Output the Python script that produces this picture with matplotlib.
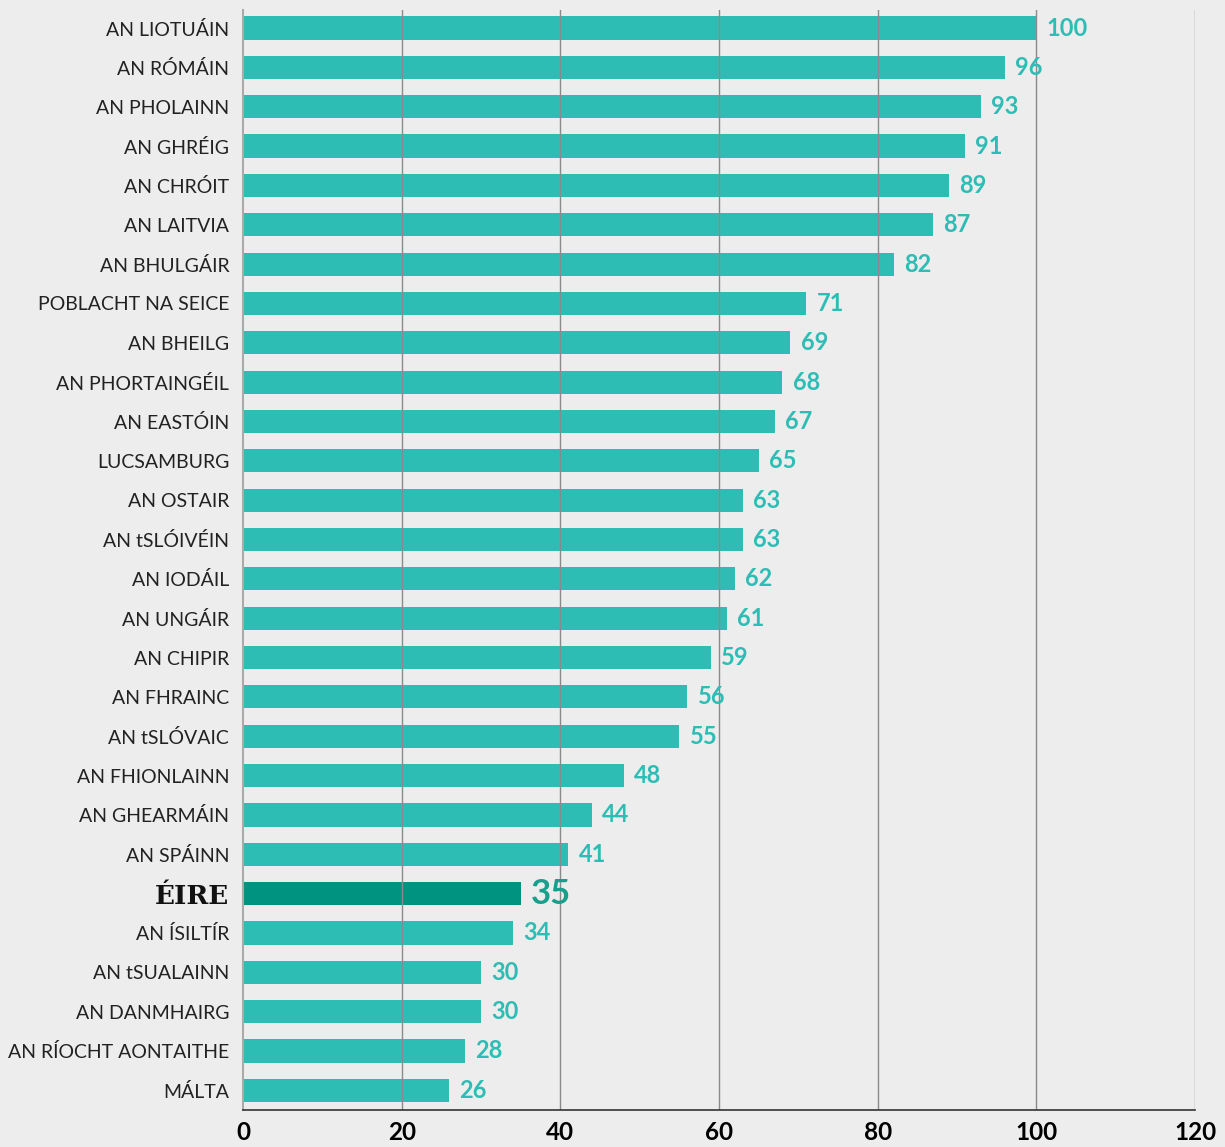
import matplotlib
matplotlib.use('Agg')
import matplotlib.pyplot as plt

countries = ['AN LIOTUÁIN', 'AN RÓMÁIN', 'AN PHOLAINN', 'AN GHRÉIG', 'AN CHRÓIT',
             'AN LAITVIA', 'AN BHULGÁIR', 'POBLACHT NA SEICE', 'AN BHEILG',
             'AN PHORTAINGÉIL', 'AN EASTÓIN', 'LUCSAMBURG', 'AN OSTAIR',
             'AN tSLÓIVÉIN', 'AN IODÁIL', 'AN UNGÁIR', 'AN CHIPIR', 'AN FHRAINC',
             'AN tSLÓVAIC', 'AN FHIONLAINN', 'AN GHEARMÁIN', 'AN SPÁINN', 'ÉIRE',
             'AN ÍSILTÍR', 'AN tSUALAINN', 'AN DANMHAIRG', 'AN RÍOCHT AONTAITHE', 'MÁLTA']
values = [100, 96, 93, 91, 89, 87, 82, 71, 69, 68, 67, 65, 63, 63, 62, 61, 59, 56,
          55, 48, 44, 41, 35, 34, 30, 30, 28, 26]
highlight = 'ÉIRE'
xticks = [0, 20, 40, 60, 80, 100, 120]

bg = '#ededed'
teal = '#2ebdb5'
dark = '#009480'

fig = plt.figure(figsize=(12.25, 11.47), dpi=100, facecolor=bg)
ax = fig.add_axes([0.1984, 0.0323, 0.7771, 0.959])
ax.set_facecolor(bg)

ypos = list(range(len(countries)))
colors = [dark if c == highlight else teal for c in countries]
ax.barh(ypos, values, height=0.59, color=colors, zorder=1)

for y, v, c in zip(ypos, values, countries):
    if c == highlight:
        ax.text(v + 1.3, y, str(v), va='center', ha='left', fontsize=25,
                fontweight='bold', color='#17a08b', family='Lato')
    else:
        ax.text(v + 1.3, y, str(v), va='center', ha='left', fontsize=17,
                fontweight='bold', color=teal, family='Lato')

ax.set_ylim(len(countries) - 0.5, -0.46)
ax.set_xlim(0, 120)
ax.set_yticks(ypos)
ax.set_yticklabels(countries, fontsize=14, family='Lato', color='#222222')
for lab in ax.get_yticklabels():
    if lab.get_text() == highlight:
        lab.set_fontsize(19)
        lab.set_fontweight('bold')
        lab.set_family('DejaVu Serif')
        lab.set_color('#111111')
ax.tick_params(axis='y', length=0, pad=10)

ax.set_xticks(xticks)
ax.set_xticklabels([str(t) for t in xticks], fontsize=17.5, fontweight='bold', family='Lato')
ax.tick_params(axis='x', length=0, pad=8)

for t in xticks[1:]:
    ax.axvline(t, color='#8a8a8a', lw=1, zorder=2)

for s in ['top', 'right']:
    ax.spines[s].set_visible(False)
ax.spines['left'].set_color('#aaaaaa')
ax.spines['left'].set_linewidth(1.5)
ax.spines['bottom'].set_color('#333333')
ax.spines['bottom'].set_linewidth(1.2)

fig.savefig('out.png', dpi=100, facecolor=bg)
